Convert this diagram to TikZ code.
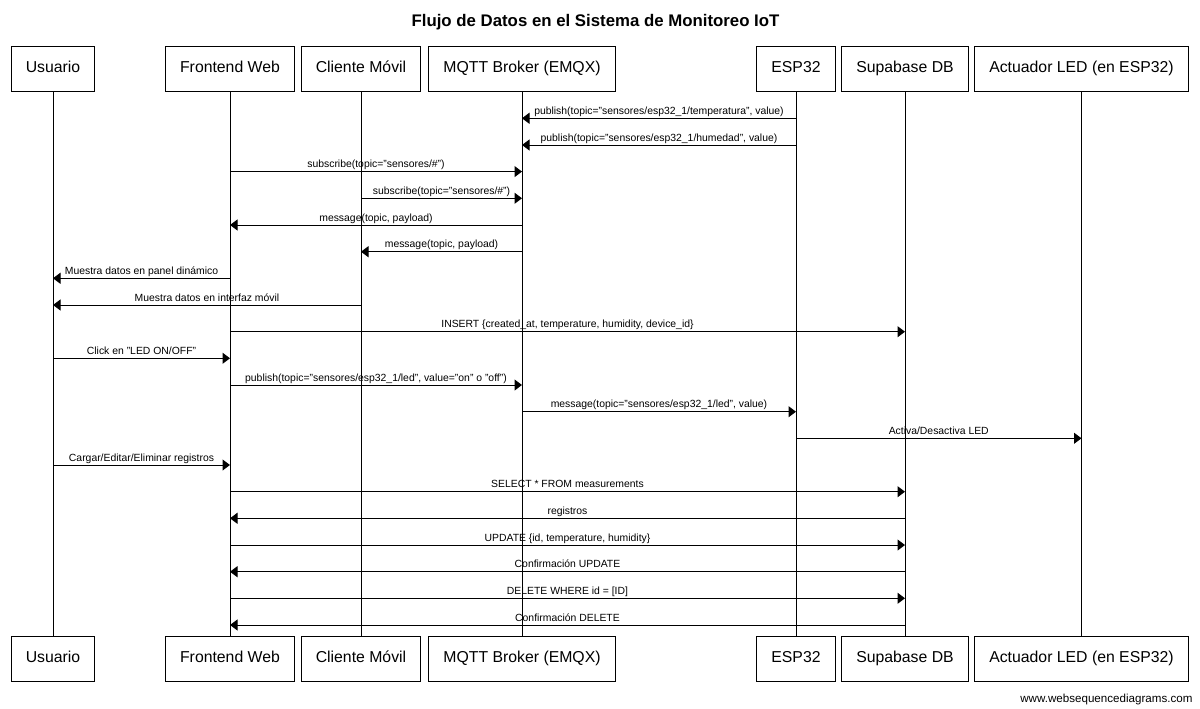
\documentclass[tikz,border=0pt]{standalone}
\usepackage{fontspec}
\setmainfont{Liberation Sans}
\usepackage{xcolor}
\usetikzlibrary{arrows.meta}

\begin{document}
\begin{tikzpicture}[x=1pt,y=-1pt,
  participant/.style={draw,line width=1pt,inner xsep=14.5pt,inner ysep=0pt,text height=11.4pt,text depth=3.3pt,minimum height=45.7pt,font=\fontsize{15.8}{19}\selectfont},
  lifeline/.style={line width=1pt},
  msg/.style={line width=1pt,-{Triangle[length=7.5pt,width=11pt]}},
  lbl/.style={midway,anchor=base,yshift=4pt,inner sep=0pt,font=\fontsize{10.4}{12}\selectfont}]
\useasboundingbox (0,0) rectangle (1200,709);

\node[anchor=base,font=\bfseries\fontsize{16.8}{20}\selectfont] (Title) at (595.5,26.5) {Flujo de Datos en el Sistema de Monitoreo IoT};

\node[participant] (UsuarioTop) at (53,68.9) {Usuario};
\node[participant] (FrontendTop) at (230,68.9) {Frontend Web};
\node[participant] (ClienteTop) at (361,68.9) {Cliente Móvil};
\node[participant] (MqttTop) at (522,68.9) {MQTT Broker (EMQX)};
\node[participant] (EspTop) at (796,68.9) {ESP32};
\node[participant] (SupabaseTop) at (905,68.9) {Supabase DB};
\node[participant] (ActuadorTop) at (1081.5,68.9) {Actuador LED (en ESP32)};

\node[participant] (UsuarioBot) at (53,658.9) {Usuario};
\node[participant] (FrontendBot) at (230,658.9) {Frontend Web};
\node[participant] (ClienteBot) at (361,658.9) {Cliente Móvil};
\node[participant] (MqttBot) at (522,658.9) {MQTT Broker (EMQX)};
\node[participant] (EspBot) at (796,658.9) {ESP32};
\node[participant] (SupabaseBot) at (905,658.9) {Supabase DB};
\node[participant] (ActuadorBot) at (1081.5,658.9) {Actuador LED (en ESP32)};

\draw[lifeline] (UsuarioTop) -- (UsuarioBot);
\draw[lifeline] (FrontendTop) -- (FrontendBot);
\draw[lifeline] (ClienteTop) -- (ClienteBot);
\draw[lifeline] (MqttTop) -- (MqttBot);
\draw[lifeline] (EspTop) -- (EspBot);
\draw[lifeline] (SupabaseTop) -- (SupabaseBot);
\draw[lifeline] (ActuadorTop) -- (ActuadorBot);

\draw[msg] (EspTop |- 0,118.3) -- (MqttTop |- 0,118.3) node[lbl] {publish(topic="sensores/esp32\_1/temperatura", value)};
\draw[msg] (EspTop |- 0,145.0) -- (MqttTop |- 0,145.0) node[lbl] {publish(topic="sensores/esp32\_1/humedad", value)};
\draw[msg] (FrontendTop |- 0,171.6) -- (MqttTop |- 0,171.6) node[lbl] {subscribe(topic="sensores/\#")};
\draw[msg] (ClienteTop |- 0,198.3) -- (MqttTop |- 0,198.3) node[lbl] {subscribe(topic="sensores/\#")};
\draw[msg] (MqttTop |- 0,225.0) -- (FrontendTop |- 0,225.0) node[lbl] {message(topic, payload)};
\draw[msg] (MqttTop |- 0,251.7) -- (ClienteTop |- 0,251.7) node[lbl] {message(topic, payload)};
\draw[msg] (FrontendTop |- 0,278.3) -- (UsuarioTop |- 0,278.3) node[lbl] {Muestra datos en panel dinámico};
\draw[msg] (ClienteTop |- 0,305.0) -- (UsuarioTop |- 0,305.0) node[lbl] {Muestra datos en interfaz móvil};
\draw[msg] (FrontendTop |- 0,331.7) -- (SupabaseTop |- 0,331.7) node[lbl] {INSERT \{created\_at, temperature, humidity, device\_id\}};
\draw[msg] (UsuarioTop |- 0,358.3) -- (FrontendTop |- 0,358.3) node[lbl] {Click en "LED ON/OFF"};
\draw[msg] (FrontendTop |- 0,385.0) -- (MqttTop |- 0,385.0) node[lbl] {publish(topic="sensores/esp32\_1/led", value="on" o "off")};
\draw[msg] (MqttTop |- 0,411.7) -- (EspTop |- 0,411.7) node[lbl] {message(topic="sensores/esp32\_1/led", value)};
\draw[msg] (EspTop |- 0,438.3) -- (ActuadorTop |- 0,438.3) node[lbl] {Activa/Desactiva LED};
\draw[msg] (UsuarioTop |- 0,465.0) -- (FrontendTop |- 0,465.0) node[lbl] {Cargar/Editar/Eliminar registros};
\draw[msg] (FrontendTop |- 0,491.7) -- (SupabaseTop |- 0,491.7) node[lbl] {SELECT * FROM measurements};
\draw[msg] (SupabaseTop |- 0,518.3) -- (FrontendTop |- 0,518.3) node[lbl] {registros};
\draw[msg] (FrontendTop |- 0,545.0) -- (SupabaseTop |- 0,545.0) node[lbl] {UPDATE \{id, temperature, humidity\}};
\draw[msg] (SupabaseTop |- 0,571.7) -- (FrontendTop |- 0,571.7) node[lbl] {Confirmación UPDATE};
\draw[msg] (FrontendTop |- 0,598.3) -- (SupabaseTop |- 0,598.3) node[lbl] {DELETE WHERE id = [ID]};
\draw[msg] (SupabaseTop |- 0,625.0) -- (FrontendTop |- 0,625.0) node[lbl] {Confirmación DELETE};

\node[anchor=base east,font=\fontsize{11.6}{14}\selectfont] (Watermark) at (1196,702) {www.websequencediagrams.com};
\end{tikzpicture}
\end{document}
